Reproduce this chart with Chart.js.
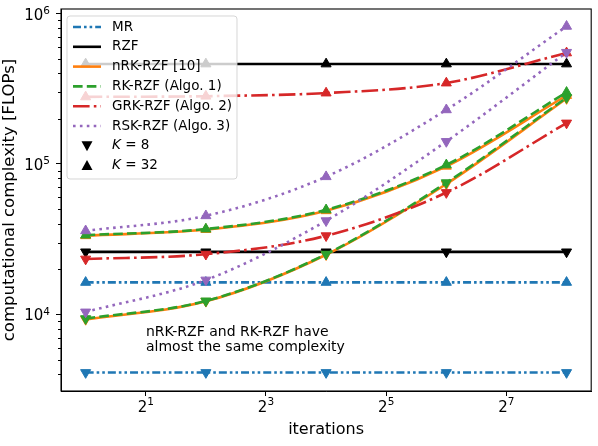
<!DOCTYPE html>
<html>
<head>
<meta charset="utf-8">
<script src="https://cdn.jsdelivr.net/npm/chart.js@4/dist/chart.umd.min.js"></script>
<style>
  html, body { margin: 0; padding: 0; background: #fff; }
  canvas { display: block; }
</style>
</head>
<body>
<canvas id="complexityChart" width="598" height="446"></canvas>
<script>
// ---------------------------------------------------------------------------
// Data
// ---------------------------------------------------------------------------

const iterations = [1, 4, 16, 64, 256];

const mrK8   = [4100, 4100, 4100, 4100, 4100];
const mrK32  = [16300, 16300, 16300, 16300, 16300];
const rzfK8  = [26000, 26000, 26000, 26000, 26000];
const rzfK32 = [462000, 462000, 462000, 462000, 462000];
const nrkK8  = [9250, 12200, 24900, 73500, 272000];
const nrkK32 = [33300, 36600, 48800, 96500, 285000];
const rkK8   = [9360, 12270, 25100, 75000, 276000];
const rkK32  = [33600, 36900, 49500, 98500, 299000];
const grkK8  = [23300, 25100, 33300, 64500, 187000];
const grkK32 = [279000, 282000, 296000, 345000, 547000];
const rskK8  = [10360, 16900, 41900, 141000, 552000];
const rskK32 = [35900, 45200, 82200, 229000, 822000];

// tick labels as base + exponent
const xTicks = [2, 8, 32, 128];
const xTickExp = ['1', '3', '5', '7'];
const yTicks = [1e4, 1e5, 1e6];
const yTickExp = ['4', '5', '6'];

const annotationLines = ['nRK-RZF and RK-RZF have', 'almost the same complexity'];

// ---------------------------------------------------------------------------
// Styles
// ---------------------------------------------------------------------------

const FONT = "'DejaVu Sans', sans-serif";
const LW = 2.6;

const methods = [
  { name: 'MR',                 color: '#1f77b4', dash: [8, 3, 2.6, 3, 2.6, 3], k8: mrK8,  k32: mrK32 },
  { name: 'RZF',                color: '#000000', dash: [],                     k8: rzfK8, k32: rzfK32 },
  { name: 'nRK-RZF [10]',       color: '#ff7f0e', dash: [],                     k8: nrkK8, k32: nrkK32 },
  { name: 'RK-RZF (Algo. 1)',   color: '#2ca02c', dash: [9.6, 4.2],             k8: rkK8,  k32: rkK32 },
  { name: 'GRK-RZF (Algo. 2)',  color: '#d62728', dash: [16.6, 4.2, 2.6, 4.2],  k8: grkK8, k32: grkK32 },
  { name: 'RSK-RZF (Algo. 3)',  color: '#9467bd', dash: [2.6, 4.3],             k8: rskK8, k32: rskK32 }
];

function toPoints(values) {
  return iterations.map(function (x, i) { return { x: x, y: values[i] }; });
}

function series(m, values, up) {
  return {
    label: m.name + (up ? ' K=32' : ' K=8'),
    data: toPoints(values),
    borderColor: m.color,
    backgroundColor: m.color,
    borderDash: m.dash,
    borderWidth: LW,
    borderCapStyle: 'butt',
    cubicInterpolationMode: 'monotone',
    pointStyle: 'triangle',
    rotation: up ? 0 : 180,
    pointRadius: 5.8,
    pointHoverRadius: 5.8,
    pointBorderWidth: 1,
    pointBorderColor: m.color,
    pointBackgroundColor: m.color,
    fill: false
  };
}

const datasets = [];
methods.forEach(function (m) {
  datasets.push(series(m, m.k8, false));
  datasets.push(series(m, m.k32, true));
});
// later datasets on top, like matplotlib
datasets.forEach(function (d, i) { d.order = datasets.length - i; });

// ---------------------------------------------------------------------------
// Plugins: frame, minor ticks, tick labels, legend, annotation
// ---------------------------------------------------------------------------

const framePlugin = {
  id: 'frame',
  afterDraw(chart) {
    const ctx = chart.ctx;
    const a = chart.chartArea;
    const x = chart.scales.x;
    const y = chart.scales.y;
    ctx.save();
    ctx.strokeStyle = '#000';
    ctx.lineWidth = 1;
    // minor ticks on the log y axis
    for (let e = 3; e <= 5; e++) {
      for (let s = 2; s <= 9; s++) {
        const v = s * Math.pow(10, e);
        if (v < y.min || v > y.max) continue;
        const py = Math.round(y.getPixelForValue(v)) + 0.5;
        ctx.beginPath();
        ctx.moveTo(a.left - 3, py);
        ctx.lineTo(a.left, py);
        ctx.stroke();
      }
    }
    ctx.lineWidth = 1.1;
    ctx.strokeRect(a.left, a.top, a.right - a.left, a.bottom - a.top);

    // tick labels with superscript exponents
    ctx.fillStyle = '#000';
    ctx.textBaseline = 'alphabetic';
    const baseFont = '15px ' + FONT;
    const expFont = '10.5px ' + FONT;

    yTicks.forEach(function (v, i) {
      const py = y.getPixelForValue(v);
      ctx.font = expFont;
      const ew = ctx.measureText(yTickExp[i]).width;
      ctx.textAlign = 'right';
      ctx.fillText(yTickExp[i], 50, py + 0.5);
      ctx.font = baseFont;
      ctx.fillText('10', 50 - ew, py + 6);
    });

    xTicks.forEach(function (v, i) {
      const px = x.getPixelForValue(v);
      ctx.font = baseFont;
      const bw = ctx.measureText('2').width;
      ctx.font = expFont;
      const ew = ctx.measureText(xTickExp[i]).width;
      const left = px - (bw + ew) / 2;
      ctx.textAlign = 'left';
      ctx.font = baseFont;
      ctx.fillText('2', left, 412);
      ctx.font = expFont;
      ctx.fillText(xTickExp[i], left + bw, 405);
    });
    ctx.restore();
  }
};

const legendPlugin = {
  id: 'boxLegend',
  afterDatasetsDraw(chart) {
    const ctx = chart.ctx;
    const x0 = 67, y0 = 16, w = 170, h = 163, r = 3;
    ctx.save();
    ctx.beginPath();
    ctx.roundRect(x0, y0, w, h, r);
    ctx.fillStyle = 'rgba(255,255,255,0.8)';
    ctx.fill();
    ctx.strokeStyle = 'rgba(204,204,204,0.8)';
    ctx.lineWidth = 1;
    ctx.stroke();

    ctx.font = '13.5px ' + FONT;
    ctx.textBaseline = 'middle';
    ctx.fillStyle = '#000';
    const rowY = function (i) { return 27 + i * 19.8; };

    methods.forEach(function (m, i) {
      const yy = rowY(i);
      ctx.strokeStyle = m.color;
      ctx.lineWidth = LW;
      ctx.lineCap = 'butt';
      ctx.setLineDash(m.dash);
      ctx.beginPath();
      ctx.moveTo(73, yy);
      ctx.lineTo(101, yy);
      ctx.stroke();
      ctx.setLineDash([]);
      ctx.fillText(m.name, 112, yy);
    });

    [['K', ' = 8', false], ['K', ' = 32', true]].forEach(function (k, j) {
      const yy = rowY(6 + j);
      ctx.fillStyle = '#000';
      ctx.beginPath();
      if (k[2]) {
        ctx.moveTo(87, yy - 5.5);
        ctx.lineTo(92.5, yy + 4.5);
        ctx.lineTo(81.5, yy + 4.5);
      } else {
        ctx.moveTo(87, yy + 5.5);
        ctx.lineTo(92.5, yy - 4.5);
        ctx.lineTo(81.5, yy - 4.5);
      }
      ctx.closePath();
      ctx.fill();
      ctx.font = 'italic 13.5px ' + FONT;
      ctx.fillText(k[0], 112, yy);
      const kw = ctx.measureText(k[0]).width;
      ctx.font = '13.5px ' + FONT;
      ctx.fillText(k[1], 112 + kw, yy);
    });

    // annotation
    ctx.font = '14px ' + FONT;
    ctx.textBaseline = 'alphabetic';
    ctx.fillText(annotationLines[0], 146, 335.5);
    ctx.fillText(annotationLines[1], 146, 351);
    ctx.restore();
  }
};

// ---------------------------------------------------------------------------
// Chart
// ---------------------------------------------------------------------------

new Chart(document.getElementById('complexityChart').getContext('2d'), {
  type: 'line',
  data: { datasets: datasets },
  options: {
    responsive: false,
    animation: false,
    events: [],
    layout: { padding: { top: 9, right: 6, left: 0, bottom: 0 } },
    plugins: {
      legend: { display: false },
      tooltip: { enabled: false }
    },
    scales: {
      x: {
        type: 'logarithmic',
        min: Math.pow(2, -0.41),
        max: Math.pow(2, 8.41),
        afterBuildTicks: function (scale) {
          scale.ticks = xTicks.map(function (v) { return { value: v }; });
        },
        afterFit: function (scale) { scale.height = 55; },
        ticks: { display: false, autoSkip: false, maxRotation: 0 },
        grid: { display: true, drawOnChartArea: false, tickLength: 5, color: '#000', tickColor: '#000' },
        border: { display: true, color: '#000', width: 1 },
        title: {
          display: true,
          text: 'iterations',
          color: '#000',
          font: { family: FONT, size: 16 },
          padding: { top: 0, bottom: 7 }
        }
      },
      y: {
        type: 'logarithmic',
        min: Math.pow(10, 3.49),
        max: Math.pow(10, 6.03),
        afterBuildTicks: function (scale) {
          scale.ticks = yTicks.map(function (v) { return { value: v }; });
        },
        afterFit: function (scale) { scale.width = 61; },
        ticks: { display: false, autoSkip: false },
        grid: { display: true, drawOnChartArea: false, tickLength: 5, color: '#000', tickColor: '#000' },
        border: { display: true, color: '#000', width: 1 },
        title: {
          display: true,
          text: 'computational complexity [FLOPs]',
          color: '#000',
          font: { family: FONT, size: 16.5 },
          padding: { top: 0, bottom: 0 }
        }
      }
    }
  },
  plugins: [framePlugin, legendPlugin]
});
</script>
</body>
</html>
